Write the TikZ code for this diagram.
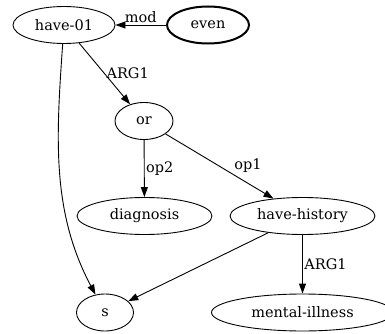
\documentclass[tikz,border=0pt]{standalone}
\usepackage{fontspec}
\setmainfont{DejaVu Serif}
\usetikzlibrary{shapes.geometric,arrows.meta}
\begin{document}
\begin{tikzpicture}[
    x=1pt, y=-1pt,
    line width=0.9pt,
    >={Triangle[length=10pt,width=7pt]},
    font=\fontsize{14.5}{16}\selectfont,
    concept/.style={ellipse,draw=black,minimum height=37pt,inner sep=0pt},
    topconcept/.style={concept,line width=2pt},
    rel/.style={inner sep=1.5pt}]
    \useasboundingbox (0,0) rectangle (385,334);
    \node[concept, minimum width=102pt] (have01) at (64,25) {have-01};
    \node[topconcept, minimum width=82pt] (even) at (208,25) {even};
    \node[concept, minimum width=58pt] (or) at (144,121) {or};
    \node[concept, minimum width=135pt] (diagnosis) at (144.5,216) {diagnosis};
    \node[concept, minimum width=145pt] (havehistory) at (302.5,216) {have-history};
    \node[concept, minimum width=57pt] (s) at (105,312.5) {s};
    \node[concept, minimum width=182pt] (mentalillness) at (302.5,312.5) {mental-illness};
    \path[->] (even) edge node[rel, above] {mod} (have01);
    \path[->] (have01) edge node[rel, right] {ARG1} (or);
    \path[->] (have01) edge[out=-94, in=118, looseness=0.95] (s);
    \path[->] (or) edge node[rel, right] {op2} (diagnosis);
    \path[->] (or) edge node[rel, pos=0.62, above right] {op1} (havehistory);
    \path[->] (havehistory) edge (s);
    \path[->] (havehistory) edge node[rel, right] {ARG1} (mentalillness);
\end{tikzpicture}
\end{document}
